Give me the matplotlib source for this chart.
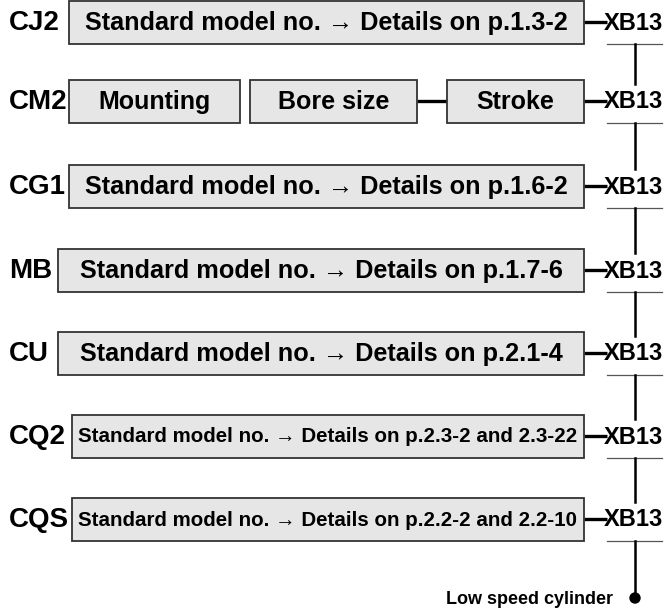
import matplotlib
matplotlib.use('Agg')
from matplotlib import pyplot as plt
from matplotlib import font_manager
from matplotlib.patches import Rectangle, Circle

# --- content ---
series = ['CJ2', 'CM2', 'CG1', 'MB', 'CU', 'CQ2', 'CQS']
box_texts = ['Standard model no. \u2192 Details on p.1.3-2',
             None,
             'Standard model no. \u2192 Details on p.1.6-2',
             'Standard model no. \u2192 Details on p.1.7-6',
             'Standard model no. \u2192 Details on p.2.1-4',
             'Standard model no. \u2192 Details on p.2.3-2 and 2.3-22',
             'Standard model no. \u2192 Details on p.2.2-2 and 2.2-10']
narrow_rows = [False, False, False, False, False, True, True]
cm2_parts = ['Mounting', 'Bore size', 'Stroke']
suffix = 'XB13'
end_label = 'Low speed cylinder'

# --- layout (pixel units, origin top-left) ---
W, H = 666, 612
row_y = [22, 101, 186, 270, 353, 436, 519]
box_h = 43
box_left = [69, 69, 69, 58, 58, 72, 72]
box_right = 584
cm2_spans = [(69, 240), (250, 417), (447, 584)]
xb_x = 604
stem_x = 635
fill = '#e6e6e6'
edge = '#333333'
fam = ['Liberation Sans', 'DejaVu Sans']


def has_font(name):
    return any(f.name == name for f in font_manager.fontManager.ttflist)


def draw_box(ax, x0, x1, yc):
    ax.add_patch(Rectangle((x0, yc - box_h / 2), x1 - x0, box_h,
                           facecolor=fill, edgecolor=edge, lw=1.3, zorder=2))


def main():
    fig = plt.figure(figsize=(W / 100, H / 100), dpi=100)
    ax = fig.add_axes([0, 0, 1, 1])
    ax.set_xlim(0, W)
    ax.set_ylim(H, 0)
    ax.axis('off')

    narrow = has_font('Liberation Sans Narrow')

    for i, name in enumerate(series):
        yc = row_y[i]
        ax.text(9, yc + 1, name, fontsize=20, fontweight='bold', family=fam,
                ha='left', va='center')

        if box_texts[i] is None:
            for (x0, x1), part in zip(cm2_spans, cm2_parts):
                draw_box(ax, x0, x1, yc)
                ax.text((x0 + x1) / 2, yc + 1, part, fontsize=18, fontweight='bold',
                        family=fam, ha='center', va='center', zorder=3)
            ax.plot([cm2_spans[1][1], cm2_spans[2][0]], [yc, yc], color='black',
                    lw=2.4, solid_capstyle='butt', zorder=1)
        else:
            draw_box(ax, box_left[i], box_right, yc)
            xc = (box_left[i] + box_right) / 2
            if narrow_rows[i]:
                if narrow:
                    ax.text(xc, yc + 1, box_texts[i], fontsize=18, fontweight='bold',
                            family=['Liberation Sans Narrow', 'DejaVu Sans'],
                            ha='center', va='center', zorder=3)
                else:
                    ax.text(xc, yc + 1, box_texts[i], fontsize=14.8, fontweight='bold',
                            family=fam, ha='center', va='center', zorder=3)
            else:
                ax.text(xc, yc + 1, box_texts[i], fontsize=18.2, fontweight='bold',
                        family=fam, ha='center', va='center', zorder=3)

        # connector to XB13
        ax.plot([box_right, xb_x + 3], [yc, yc], color='black', lw=2.4,
                solid_capstyle='butt', zorder=1)
        ax.text(xb_x, yc + 1, suffix, fontsize=17, fontweight='bold', family=fam,
                ha='left', va='center')

        # underline + stem down to next row
        ax.plot([607, 662], [yc + 22, yc + 22], color='#555555', lw=0.9)
        if i + 1 < len(row_y):
            y_end = row_y[i + 1] - 17
        else:
            y_end = 598
        ax.plot([stem_x, stem_x], [yc + 22, y_end], color='black', lw=1.8)

    # end dot and label
    ax.add_patch(Circle((stem_x, 598), 5, color='black', zorder=3))
    ax.text(613, 599, end_label, fontsize=13, fontweight='bold', family=fam,
            ha='right', va='center')

    fig.savefig('out.png', dpi=100, facecolor='white')


if __name__ == '__main__':
    main()
